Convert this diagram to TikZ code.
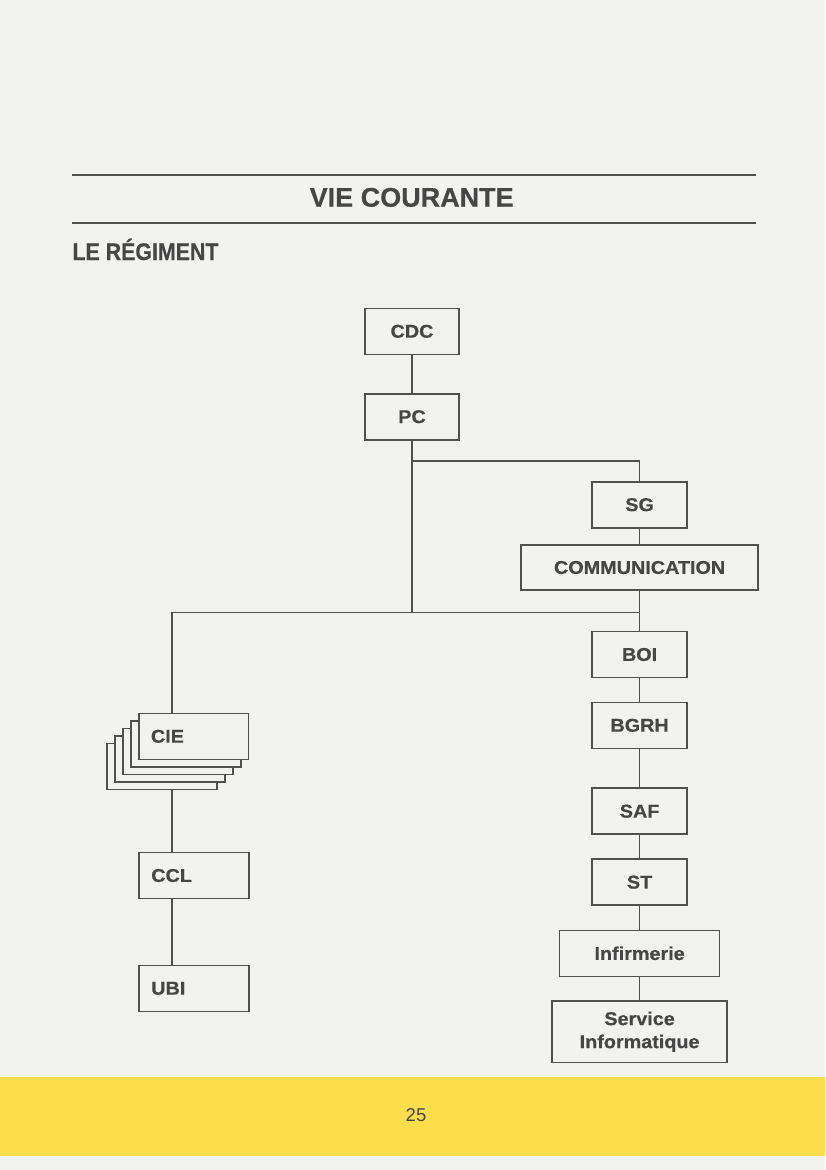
\documentclass[tikz,border=0pt]{standalone}
\usepackage{fontspec}
\usepackage{graphicx}
\newfontfamily\boxfont{Liberation Sans Bold}[FakeStretch=1.07,FakeBold=0.6]
\newfontfamily\headfont{Liberation Sans Bold}[FakeBold=0.5]
\newfontfamily\subheadfont{Liberation Sans Bold}[FakeStretch=0.89,FakeBold=0.5]
\newfontfamily\pagefont{Liberation Sans}
\definecolor{bg}{RGB}{242,243,241}
\definecolor{yel}{RGB}{252,222,76}
\definecolor{ln}{RGB}{80,80,80}
\definecolor{txt}{RGB}{70,70,70}
\tikzset{
  box/.style={draw=ln, line width=1.6pt, fill=bg, text=txt, inner sep=0pt,
    minimum height=46pt, font=\boxfont\fontsize{18.5}{23}\selectfont, align=center},
  leftbox/.style={box, minimum width=109.5pt, text width=85.5pt, inner xsep=12pt, align=left},
  conn/.style={draw=ln, line width=1.6pt},
  rule/.style={draw=ln, line width=1.6pt}
}
\begin{document}
\begin{tikzpicture}[x=1pt,y=-1pt]
\useasboundingbox (0,0) rectangle (825,1170);
\fill[bg] (0,0) rectangle (825,1170);
\fill[yel] (0,1077) rectangle (825,1156);
\node[text=txt, font=\pagefont\fontsize{18.5}{22}\selectfont] (pagenum) at (416,1115) {25};

% header
\draw[rule] (71.5,175) -- (755.6,175);
\draw[rule] (71.5,222.7) -- (755.6,222.7);
\node[anchor=base, inner sep=0pt, text=txt, font=\headfont\fontsize{27}{30}\selectfont] (title) at (411.7,206.7) {VIE COURANTE};
\node[anchor=base west, inner sep=0pt, text=txt, font=\subheadfont\fontsize{24}{28}\selectfont] (regiment) at (72.3,260) {LE RÉGIMENT};

% central column
\node[box, minimum width=93.5pt] (cdc) at (412,331.3) {CDC};
\node[box, minimum width=93.5pt] (pc) at (412,416.7) {PC};

% right column
\node[box, minimum width=95pt] (sg) at (639.6,504.7) {SG};
\node[box, minimum width=237.3pt, minimum height=45pt] (comm) at (639.6,567.5) {COMMUNICATION};
\node[box, minimum width=95pt] (boi) at (639.6,654.5) {BOI};
\node[box, minimum width=95pt] (bgrh) at (639.6,725.3) {BGRH};
\node[box, minimum width=95pt] (saf) at (639.6,811.2) {SAF};
\node[box, minimum width=95pt] (st) at (639.6,882.2) {ST};
\node[box, minimum width=160pt] (inf) at (639.6,953.3) {Infirmerie};
\node[box, minimum width=175pt, minimum height=61.7pt] (si) at (639.6,1031.8) {Service\\Informatique};

% left column: stacked CIE
\node[leftbox] (cie4) at (162,766.3) {};
\node[leftbox] (cie3) at (170,758.8) {};
\node[leftbox] (cie2) at (178,751.3) {};
\node[leftbox] (cie1) at (186,743.8) {};
\node[leftbox] (cie) at (193.7,736.3) {CIE};
\node[leftbox] (ccl) at (194,875.5) {CCL};
\node[leftbox] (ubi) at (194,988.3) {UBI};

% connectors
\coordinate (hub) at (412,612.3);
\coordinate (upj) at (412,460.7);
\coordinate (ciein) at (172,612.3);
\draw[conn] (cdc.south) -- (pc.north);
\draw[conn] (pc.south) -- (hub);
\draw[conn] (upj) -| (sg.north);
\draw[conn] (sg.south) -- (comm.north);
\draw[conn] (comm.south) -- (boi.north);
\draw[conn] (ciein) -- (comm.south |- ciein);
\draw[conn] (ciein) -- (ciein |- cie.north);
\draw[conn] (ciein |- cie4.south) -- (ciein |- ccl.north);
\draw[conn] (ciein |- ccl.south) -- (ciein |- ubi.north);
\draw[conn] (boi.south) -- (bgrh.north);
\draw[conn] (bgrh.south) -- (saf.north);
\draw[conn] (saf.south) -- (st.north);
\draw[conn] (st.south) -- (inf.north);
\draw[conn] (inf.south) -- (si.north);
\end{tikzpicture}
\end{document}
